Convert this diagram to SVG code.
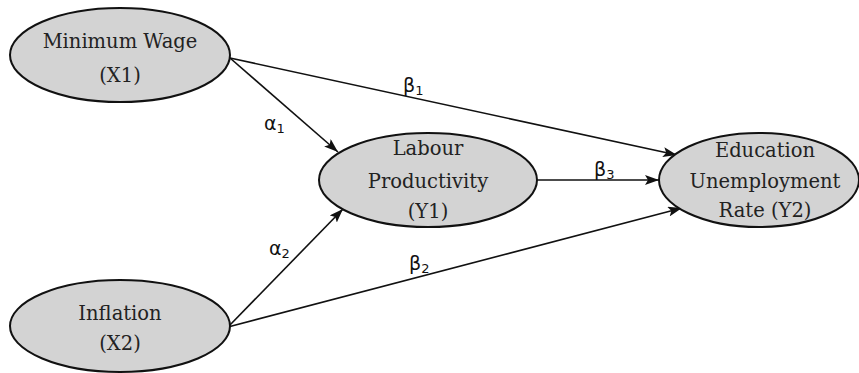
<svg xmlns="http://www.w3.org/2000/svg" width="859" height="373" viewBox="0 0 859 373">
<style>
.node ellipse{fill:#d3d3d3;stroke:#111;stroke-width:2}
.node text{font-family:'DejaVu Serif',serif;font-size:19.5px;fill:#222;text-anchor:middle}
.edges line{stroke:#111;stroke-width:1.6}
.lbl{font-family:'DejaVu Sans',sans-serif;font-size:19px;fill:#111}
.sub{font-size:13px}
</style>
<defs>
<marker id="arr" viewBox="0 0 14 10" refX="14" refY="5" markerWidth="14" markerHeight="10" markerUnits="userSpaceOnUse" orient="auto">
<path d="M0,0 L14,5 L0,10 L3,5 Z" fill="#111"/>
</marker>
</defs>
<rect width="859" height="373" fill="#fff"/>
<g class="edges">
<line x1="230" y1="58" x2="338" y2="152" marker-end="url(#arr)"/>
<line x1="230" y1="58" x2="677" y2="155" marker-end="url(#arr)"/>
<line x1="537" y1="180" x2="659" y2="180" marker-end="url(#arr)"/>
<line x1="228" y1="327" x2="343" y2="209" marker-end="url(#arr)"/>
<line x1="228" y1="327" x2="682" y2="208" marker-end="url(#arr)"/>
<text class="lbl" x="264" y="130">α<tspan class="sub" dy="3">1</tspan></text>
<text class="lbl" x="403" y="92">β<tspan class="sub" dy="3">1</tspan></text>
<text class="lbl" x="594" y="176">β<tspan class="sub" dy="3">3</tspan></text>
<text class="lbl" x="269" y="255">α<tspan class="sub" dy="3">2</tspan></text>
<text class="lbl" x="409" y="270">β<tspan class="sub" dy="3">2</tspan></text>
</g>
<g id="x1" class="node">
<ellipse cx="120" cy="55" rx="110" ry="47"/>
<text x="120" y="48">Minimum Wage</text>
<text x="120" y="82">(X1)</text>
</g>
<g id="x2" class="node">
<ellipse cx="120" cy="326" rx="110" ry="46"/>
<text x="120" y="320">Inflation</text>
<text x="120" y="350">(X2)</text>
</g>
<g id="y1" class="node">
<ellipse cx="428" cy="180" rx="109" ry="47"/>
<text x="428" y="155">Labour</text>
<text x="428" y="188">Productivity</text>
<text x="428" y="218">(Y1)</text>
</g>
<g id="y2" class="node">
<ellipse cx="759" cy="180" rx="100" ry="47"/>
<text x="765" y="157">Education</text>
<text x="765" y="188">Unemployment</text>
<text x="765" y="217">Rate (Y2)</text>
</g>
</svg>
